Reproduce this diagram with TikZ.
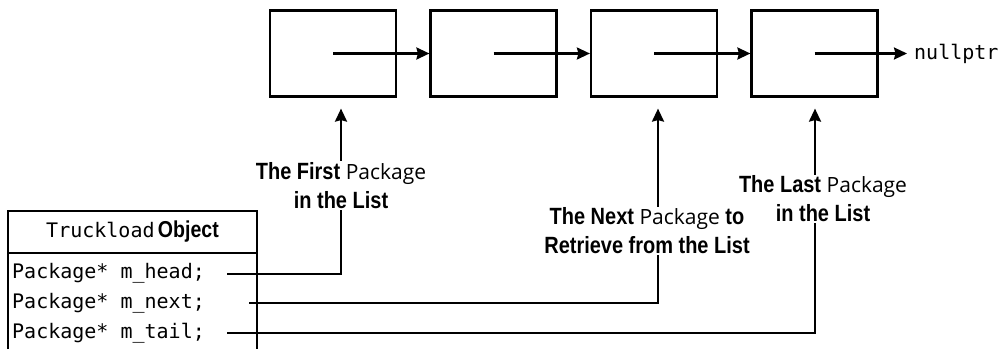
\documentclass[tikz,border=0pt]{standalone}
\usepackage{fontspec}
\usetikzlibrary{arrows.meta}
\newfontfamily\labelbf{Liberation Sans}[FakeStretch=0.85]
\newfontfamily\wordfont{Open Sans}
\newfontfamily\codefont{DejaVu Sans Mono}
\newcommand{\bt}[1]{{\bfseries #1}}
\newcommand{\pk}{{\wordfont\mdseries\fontsize{21}{29}\selectfont Package}}
\tikzset{
    pkgbox/.style={draw, line width=2.2pt, minimum width=126pt, minimum height=86pt, inner sep=0pt},
    ptr/.style={line width=2.2pt, -{Stealth[length=13pt, width=12pt, inset=1.5pt]}},
    lbl/.style={fill=white, align=center, inner sep=1pt, font=\labelbf\bfseries\fontsize{23.5}{29}\selectfont},
    member/.style={anchor=west, inner sep=0pt, font=\codefont\fontsize{20}{30}\selectfont},
}
\begin{document}
\begin{tikzpicture}[x=1pt, y=1pt]
    \useasboundingbox (0,0) rectangle (1007,349);

    % Pakete
    \node[pkgbox] (p1) at (333,295.5) {};
    \node[pkgbox] (p2) at (493.5,295.5) {};
    \node[pkgbox] (p3) at (654,295.5) {};
    \node[pkgbox] (p4) at (814.5,295.5) {};
    \node[anchor=west, inner xsep=7pt, inner ysep=1pt, font=\codefont\fontsize{20}{24}\selectfont] (null) at (907,295.5) {nullptr};

    \draw[ptr] (p1.center) -- (p2.west);
    \draw[ptr] (p2.center) -- (p3.west);
    \draw[ptr] (p3.center) -- (p4.west);
    \draw[ptr] (p4.center) -- (null.west);

    % Truckload
    \draw[line width=2.2pt] (8,0) -- (8,138) -- (257,138) -- (257,0);
    \draw[line width=2.2pt] (8,96) -- (257,96);
    \node[inner sep=0pt] (title) at (132.5,117)
        {{\codefont\fontsize{20}{24}\selectfont Truckload} {\labelbf\bfseries\fontsize{23}{24}\selectfont Object}};

    \node[member] (mhead) at (12,76) {Package* m\_head;};
    \node[member] (mnext) at (12,46) {Package* m\_next;};
    \node[member] (mtail) at (12,16) {Package* m\_tail;};

    \coordinate (hs) at (227,75);
    \coordinate (ns) at (249,46);
    \coordinate (ts) at (227,16);

    \draw[ptr] (hs) -| ([xshift=8pt, yshift=-11pt]p1.south);
    \draw[ptr] (ns) -| ([xshift=4pt, yshift=-11pt]p3.south);
    \draw[ptr] (ts) -| ([xshift=0.5pt, yshift=-11pt]p4.south);

    % Beschriftungen
    \node[lbl] (firstlbl) at (341,163.5) {\bt{The First} \pk\\\bt{in the List}};
    \node[lbl] (lastlbl) at (823,150) {\bt{The Last} \pk\\\bt{in the List}};
    \node[lbl] (nextlbl) at (647,118) {\bt{The Next} \pk\ \bt{to}\\\bt{Retrieve from the List}};
\end{tikzpicture}
\end{document}
